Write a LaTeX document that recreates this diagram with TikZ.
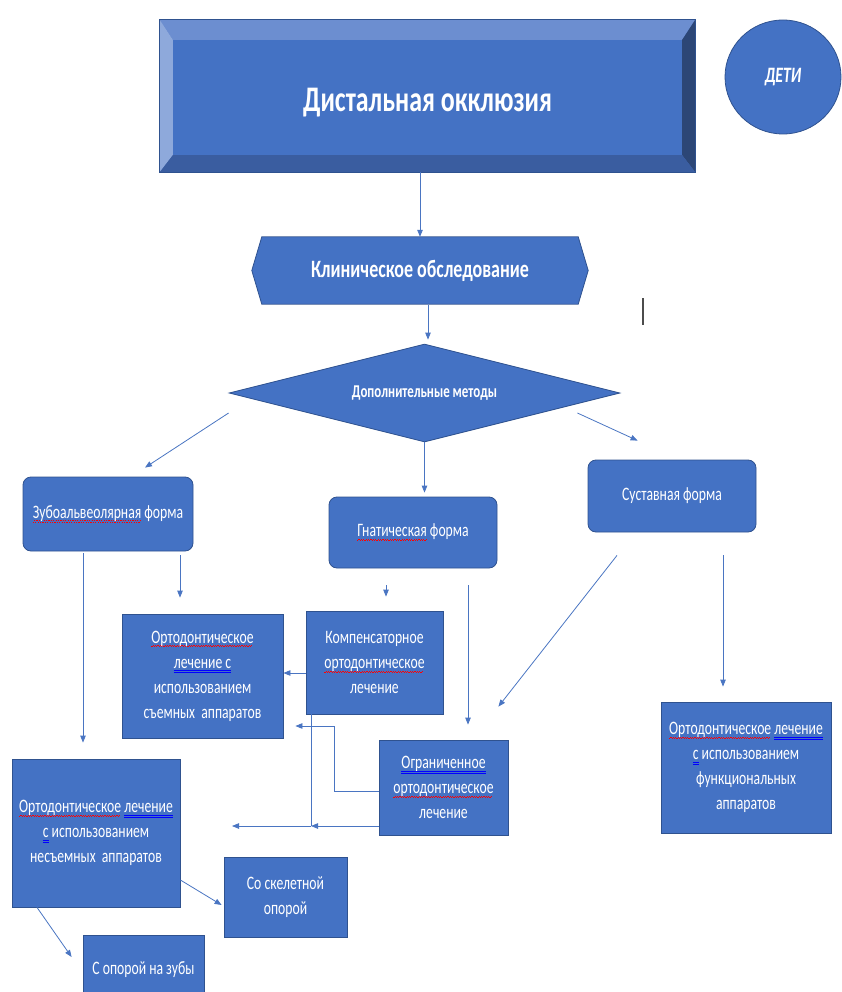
\documentclass[tikz,border=0pt]{standalone}
\usepackage{fontspec}
\setmainfont[FakeStretch=0.72]{Carlito}
\usetikzlibrary{shapes.geometric,arrows.meta}

\definecolor{boxblue}{HTML}{4472C4}
\definecolor{boxedge}{HTML}{2F528F}
\definecolor{linkblue}{HTML}{4A75C2}
\definecolor{bevtop}{HTML}{6C8ED0}
\definecolor{bevleft}{HTML}{8EA9DB}
\definecolor{bevright}{HTML}{2C4676}
\definecolor{bevbottom}{HTML}{3A5DA0}

% spell check marks as they show in the screenshot
\newsavebox\wordbox
\newcommand\redwave[1]{\sbox\wordbox{#1}\rlap{\hbox to \wd\wordbox{\color{red}\leaders\hbox{\rule[-4pt]{1.2pt}{0.8pt}\rule[-2.8pt]{1.2pt}{0.8pt}}\hfil}}\usebox\wordbox}
\newcommand\bluedbl[1]{\sbox\wordbox{#1}\rlap{\color{blue}\rule[-2.5pt]{\wd\wordbox}{0.6pt}}\rlap{\color{blue}\rule[-4.5pt]{\wd\wordbox}{0.6pt}}\usebox\wordbox}

\begin{document}
\begin{tikzpicture}[x=1pt,y=-1pt,
    every node/.style={text=white, align=center, font=\fontsize{19}{25}\selectfont},
    block/.style={rectangle, fill=boxblue, draw=boxedge, line width=0.8pt, inner sep=2pt},
    formbox/.style={block, rounded corners=8pt},
    link/.style={draw=linkblue, line width=0.8pt, -{Triangle[length=7pt,width=5.5pt]}}]
\clip (0,0) rectangle (842,992);
% The title sits in a big bevelled box, the bevel is four
% trapezoids laid over the edges of the node.
\node (title) [rectangle, fill=boxblue, draw=boxedge, minimum width=535pt, minimum height=152pt,
    text height=40pt, text depth=8pt,
    font=\bfseries\fontsize{36}{40}\selectfont] at (427.5,96) {Дистальная окклюзия};
\fill[bevtop] (title.north west) -- (title.north east) -- ([xshift=-13pt,yshift=-20pt]title.north east)
    -- ([xshift=13pt,yshift=-20pt]title.north west) -- cycle;
\fill[bevleft] (title.north west) -- ([xshift=13pt,yshift=-20pt]title.north west)
    -- ([xshift=13pt,yshift=17pt]title.south west) -- (title.south west) -- cycle;
\fill[bevright] (title.north east) -- ([xshift=-13pt,yshift=-20pt]title.north east)
    -- ([xshift=-13pt,yshift=17pt]title.south east) -- (title.south east) -- cycle;
\fill[bevbottom] (title.south west) -- ([xshift=13pt,yshift=17pt]title.south west)
    -- ([xshift=-13pt,yshift=17pt]title.south east) -- (title.south east) -- cycle;
\draw[boxedge, line width=0.8pt] (title.north west) rectangle (title.south east);
\node (kids) [ellipse, fill=boxblue, draw=boxedge, line width=0.8pt, minimum width=116pt, minimum height=114pt,
    font=\bfseries\itshape\fontsize{22}{24}\selectfont] at (783,77) {ДЕТИ};

% The exam box is a rectangle with a point on each side
\node (exam) [rectangle, fill=boxblue, minimum width=316pt, minimum height=67pt, inner sep=0pt,
    font=\bfseries\fontsize{25}{28}\selectfont] at (420,270.5) {Клиническое обследование};
\fill[boxblue] (exam.north east) -- ([xshift=10pt]exam.east) -- (exam.south east) -- cycle;
\fill[boxblue] (exam.north west) -- ([xshift=-10pt]exam.west) -- (exam.south west) -- cycle;
\draw[boxedge, line width=0.8pt] (exam.north west) -- (exam.north east) -- ([xshift=10pt]exam.east)
    -- (exam.south east) -- (exam.south west) -- ([xshift=-10pt]exam.west) -- cycle;
%text cursor left in the screenshot
\draw[line width=2pt, black!70] (643,298) -- (643,325);

\node (method) [diamond, aspect=4, fill=boxblue, draw=boxedge, line width=0.8pt, inner sep=0pt,
    minimum width=391pt, minimum height=98pt, font=\bfseries\fontsize{18}{20}\selectfont]
    at (424.5,393) {Дополнительные методы};

% The three forms, with rounded corners
\node (zub) [formbox, minimum width=170pt, minimum height=74pt] at (108,514) {\redwave{Зубоальвеолярная} форма};
\node (gnat) [formbox, minimum width=168pt, minimum height=71pt] at (413,532.5) {\redwave{Гнатическая} форма};
\node (sustav) [formbox, minimum width=168pt, minimum height=72pt] at (672,496) {Суставная форма};

% The kinds of treatment
\node (removable) [block, minimum width=161pt, minimum height=124pt] at (202.5,676)
    {\redwave{Ортодонтическое}\\ \bluedbl{лечение с}\\ использованием\\ съемных\ \ аппаратов};
\node (compens) [block, minimum width=137pt, minimum height=103pt] at (374.5,662.5)
    {Компенсаторное\\ \redwave{ортодонтическое}\\ лечение};
\node (limited) [block, minimum width=129pt, minimum height=95pt] at (443.5,787.5)
    {\bluedbl{Ограниченное}\\ \redwave{ортодонтическое}\\ лечение};
\node (fixed) [block, minimum width=168pt, minimum height=148pt] at (96,833)
    {\redwave{Ортодонтическое} \bluedbl{лечение}\\ \bluedbl{с} использованием\\ несъемных\ \ аппаратов};
\node (functional) [block, minimum width=170pt, minimum height=131pt] at (746,767.5)
    {\redwave{Ортодонтическое} \bluedbl{лечение}\\ \bluedbl{с} использованием\\ функциональных\\ аппаратов};
\node (skeletal) [block, minimum width=123pt, minimum height=80pt] at (285.5,897) {Со скелетной\\ опорой};
\node (teeth) [block, minimum width=121pt, minimum height=70pt] at (143.5,970) {С опорой на зубы};

%Free ends of the lower left connector
\coordinate (merge) at (311,826);
\coordinate (joinL) at (232,826);

% Now the arrows, from node to node
\draw[link] (title.south -| exam.north) -- (exam.north);
\draw[link, shorten <=1pt, shorten >=4pt] (exam.south -| 428,0) -- (method.north -| 428,0);
\draw[link] ([yshift=-20pt]method.west) -- ([xshift=37pt,yshift=9pt]zub.north);
\draw[link, shorten >=4pt] (method.south) -- (method.south |- gnat.north);
\draw[link] ([xshift=-43pt,yshift=-20pt]method.east) -- ([xshift=50pt,yshift=19pt]sustav.north west);
\draw[link, shorten <=2pt, shorten >=16pt] ([xshift=-25pt]zub.south) -- ([xshift=-25pt]zub.south |- fixed.north);
\draw[link, shorten <=4pt, shorten >=16pt] ([xshift=72pt]zub.south) -- ([xshift=72pt]zub.south |- removable.north);
\draw[link, shorten <=17pt, shorten >=14pt] ([xshift=-27pt]gnat.south) -- ([xshift=-27pt]gnat.south |- compens.north);
\draw[link, shorten <=17pt, shorten >=15pt] ([xshift=55pt]gnat.south) -- ([xshift=55pt]gnat.south |- limited.north);
\draw[link] ([xshift=-55pt,yshift=-23pt]sustav.south) -- ([xshift=-10pt,yshift=33pt]limited.north east);
\draw[link, shorten <=23pt, shorten >=15pt] ([xshift=51pt]sustav.south) -- ([xshift=51pt]sustav.south |- functional.north);
\draw[link] ([yshift=-10.5pt]compens.west) -- ([yshift=-10.5pt]compens.west -| removable.east);
\draw[link] ([yshift=-3.5pt]limited.west) -- ++(-44,0) |- ([xshift=12pt,yshift=-50pt]removable.east);
\draw[link] ([yshift=-38.5pt]limited.west) -- (merge);
\draw[link] (merge) -- (joinL);
\draw[draw=linkblue, line width=0.8pt] ([xshift=-63.5pt]compens.south) -- (merge);
\draw[link] ([yshift=-47pt]fixed.east) -- ([xshift=-2pt,yshift=-8pt]skeletal.west);
\draw[link] ([xshift=-59pt]fixed.south) -- ([xshift=-11pt,yshift=13pt]teeth.west);
\end{tikzpicture}
\end{document}
